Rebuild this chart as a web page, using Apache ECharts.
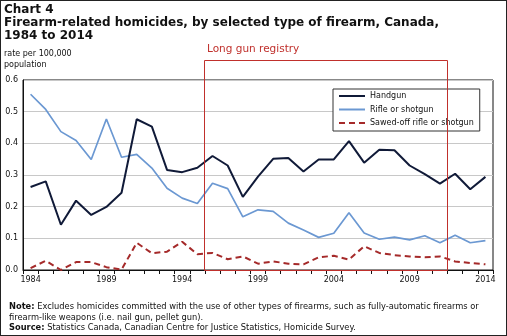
<!DOCTYPE html>
<html><head><meta charset="utf-8">
<script src="https://cdn.jsdelivr.net/npm/echarts@6/dist/echarts.min.js"></script>
<style>
html,body{margin:0;padding:0;background:#fff;}
#wrap{position:relative;width:507px;height:336px;box-sizing:border-box;border:1px solid #222;}
#c{position:absolute;left:0;top:0;width:505px;height:334px;}
</style></head><body>
<div id="wrap"><div id="c"></div></div>
<script>
const years = ['1984','1985','1986','1987','1988','1989','1990','1991','1992','1993','1994','1995','1996','1997','1998','1999','2000','2001','2002','2003','2004','2005','2006','2007','2008','2009','2010','2011','2012','2013','2014'];
const handgun = [0.262,0.280,0.143,0.219,0.174,0.199,0.244,0.476,0.453,0.316,0.309,0.323,0.360,0.330,0.231,0.295,0.351,0.354,0.311,0.349,0.349,0.407,0.339,0.380,0.378,0.330,0.303,0.273,0.304,0.255,0.294];
const rifle = [0.555,0.507,0.437,0.409,0.349,0.477,0.356,0.365,0.322,0.258,0.227,0.210,0.274,0.257,0.168,0.190,0.185,0.148,0.126,0.103,0.116,0.181,0.117,0.097,0.104,0.095,0.108,0.086,0.110,0.086,0.093];
const sawedOff = [0.006,0.029,0.000,0.025,0.025,0.009,0.001,0.086,0.053,0.058,0.089,0.050,0.054,0.034,0.043,0.020,0.027,0.020,0.018,0.040,0.045,0.033,0.075,0.054,0.047,0.043,0.040,0.043,0.027,0.022,0.018];
const registryFrom = ['1995','1996'];
const registryTo = ['2011','2012'];
const yTicks = [0,0.1,0.2,0.3,0.4,0.5,0.6];

const FONT = 'DejaVu Sans';
const chart = echarts.init(document.getElementById('c'), null, {renderer:'canvas'});
const option = {
  animation:false,
  textStyle:{fontFamily:FONT},
  title:[
    {text:'Chart 4', left:3, top:2, padding:0, textStyle:{fontFamily:FONT,fontSize:12,fontWeight:'bold',color:'#111',lineHeight:13}},
    {text:'Firearm-related homicides, by selected type of firearm, Canada,\n1984 to 2014', left:3, top:16, padding:0, textStyle:{fontFamily:FONT,fontSize:12,fontWeight:'bold',color:'#111',lineHeight:12.5}},
    {text:'rate per 100,000\npopulation', left:3, top:48, padding:0, textStyle:{fontFamily:FONT,fontSize:8,fontWeight:'normal',color:'#111',lineHeight:10.5}},
    {text:'{b|Note:} Excludes homicides committed with the use of other types of firearms, such as fully-automatic firearms or\nfirearm-like weapons (i.e. nail gun, pellet gun).\n{b|Source:} Statistics Canada, Canadian Centre for Justice Statistics, Homicide Survey.', left:8, top:301, padding:0,
     textStyle:{fontFamily:FONT,fontSize:8.3,fontWeight:'normal',color:'#111',lineHeight:10.5,rich:{b:{fontFamily:FONT,fontSize:8.3,fontWeight:'bold',color:'#111'}}}}
  ],
  legend:{
    orient:'vertical', left:332, top:88, itemWidth:26, itemHeight:10, itemGap:5.5,
    padding:[3,6,4,5], borderColor:'#333', borderWidth:1, backgroundColor:'#fff',
    itemStyle:{opacity:0},
    textStyle:{fontFamily:FONT,fontSize:8,color:'#111'},
    data:['Handgun','Rifle or shotgun','Sawed-off rifle or shotgun']
  },
  grid:{left:22, right:13, top:79, bottom:65, show:true, borderColor:'#111', borderWidth:1, backgroundColor:'transparent'},
  xAxis:{
    type:'category', data:years, boundaryGap:true,
    axisLine:{lineStyle:{color:'#111'}},
    axisTick:{show:true, interval:0, length:4, lineStyle:{color:'#111'}},
    axisLabel:{interval:4, fontFamily:FONT, fontSize:8, color:'#111', margin:6}
  },
  yAxis:{
    type:'value', min:0, max:0.6, interval:0.1,
    axisLine:{show:true,lineStyle:{color:'#111'}},
    axisTick:{show:false},
    splitLine:{lineStyle:{color:'#c8c8c8',width:1}},
    axisLabel:{fontFamily:FONT, fontSize:8, color:'#111', margin:5, formatter:v=>v.toFixed(1)}
  },
  series:[
    {name:'Handgun', type:'line', data:handgun, symbol:'none', lineStyle:{color:'#101a38', width:2}, itemStyle:{color:'#101a38'}, z:5},
    {name:'Rifle or shotgun', type:'line', data:rifle, symbol:'none', lineStyle:{color:'#6b98d2', width:1.7}, itemStyle:{color:'#6b98d2'}, z:4},
    {name:'Sawed-off rifle or shotgun', type:'line', data:sawedOff, symbol:'none', lineStyle:{color:'#a52a2a', width:2, type:[6,4]}, itemStyle:{color:'#a52a2a'}, z:3}
  ]
};
chart.setOption(option);

function midX(pair){
  const a = chart.convertToPixel({xAxisIndex:0}, pair[0]);
  const b = chart.convertToPixel({xAxisIndex:0}, pair[1]);
  return (a+b)/2;
}
const x1 = midX(registryFrom), x2 = midX(registryTo);
const yTop = chart.convertToPixel({yAxisIndex:0}, yTicks[yTicks.length-1]) - 20;
const yBot = chart.convertToPixel({yAxisIndex:0}, yTicks[0]);
chart.setOption({
  graphic:[
    {type:'rect', z:10, shape:{x:Math.round(x1)-0.5, y:Math.round(yTop)+0.5, width:Math.round(x2-x1), height:Math.round(yBot-yTop)},
     style:{fill:'none', stroke:'#c0302c', lineWidth:1}, silent:true},
    {type:'text', z:10, left:Math.round(x1)+2, top:Math.round(yTop)-16,
     style:{text:'Long gun registry', fill:'#c0302c', font:'10.5px "DejaVu Sans"'}}
  ]
});
</script>
</body></html>
